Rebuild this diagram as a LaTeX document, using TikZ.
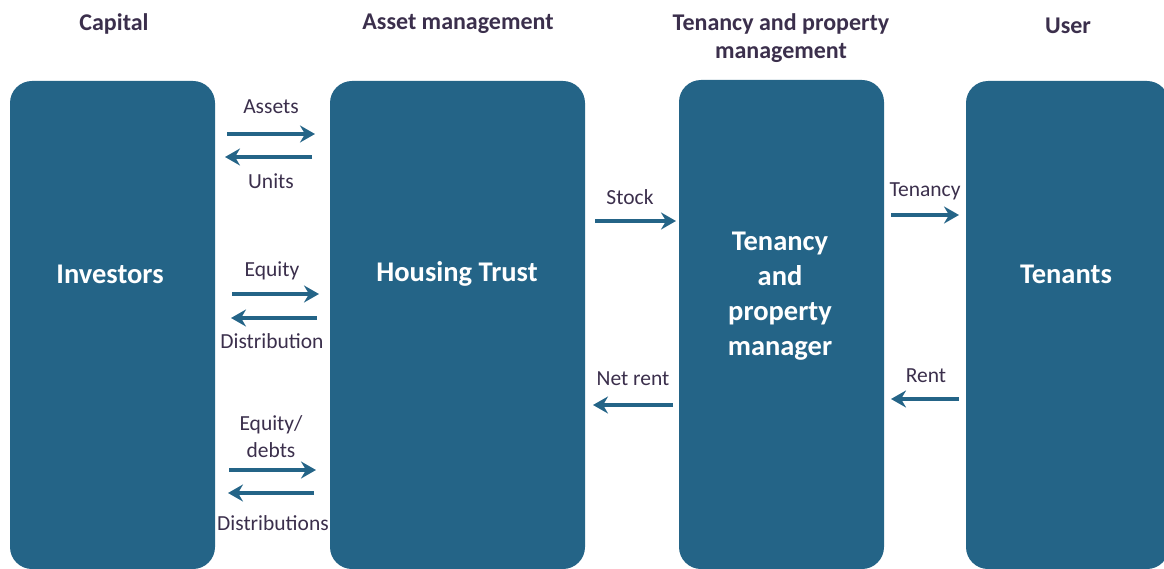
\documentclass[tikz,border=0pt]{standalone}
\usepackage{fontspec}
\setmainfont{Carlito}
\usetikzlibrary{arrows.meta}
\definecolor{boxblue}{HTML}{246487}
\definecolor{txt}{HTML}{3B2F4C}
\tikzset{
  box/.style={fill=boxblue, draw=none, rounded corners=22pt, text=white, font=\bfseries\fontsize{28.5}{35}\selectfont, align=center, inner sep=0pt},
  head/.style={text=txt, font=\bfseries\fontsize{24}{28}\selectfont, align=center, inner sep=0pt},
  lab/.style={text=txt, font=\fontsize{21.5}{27}\selectfont, align=center, inner sep=0pt},
  arr/.style={draw=boxblue, line width=4pt, -{Stealth[length=15pt, width=17pt, inset=5pt]}}
}
\begin{document}
\begin{tikzpicture}[x=1pt, y=-1pt]
\useasboundingbox (0,0) rectangle (1164,569);
% headers
\node[head] (h1) at (114,24) {Capital};
\node[head] (h2) at (458,24) {Asset management};
\node[head] (h3) at (781,38) {Tenancy and property\\management};
\node[head] (h4) at (1068,26) {User};
% boxes
\path[box] (10,81) rectangle (215,569);
\path[box] (330,81) rectangle (585,569);
\path[box] (679,80) rectangle (884,569);
\path[box] (966,81) rectangle (1169,569);
\node[box, fill=none] (inv) at (110,274) {Investors};
\node[box, fill=none] (ht) at (457,274) {Housing Trust};
\node[box, fill=none] (tpm) at (780,296) {Tenancy\\and\\property\\manager};
\node[box, fill=none] (ten) at (1066,274) {Tenants};
% arrow endpoints
\coordinate (a1s) at (227,134); \coordinate (a1e) at (315,134);
\coordinate (a2s) at (312,157); \coordinate (a2e) at (225,157);
\coordinate (b1s) at (232,294); \coordinate (b1e) at (319,294);
\coordinate (b2s) at (317,318); \coordinate (b2e) at (231,318);
\coordinate (c1s) at (229,470); \coordinate (c1e) at (316,470);
\coordinate (c2s) at (314,493); \coordinate (c2e) at (228,493);
\coordinate (ss) at (595,221); \coordinate (se) at (676,221);
\coordinate (ns) at (673,405); \coordinate (ne) at (593,405);
\coordinate (ts) at (891,215); \coordinate (te) at (959,215);
\coordinate (rs) at (959,399); \coordinate (re) at (891,399);
\draw[arr] (a1s) -- (a1e);
\draw[arr] (a2s) -- (a2e);
\draw[arr] (b1s) -- (b1e);
\draw[arr] (b2s) -- (b2e);
\draw[arr] (c1s) -- (c1e);
\draw[arr] (c2s) -- (c2e);
\draw[arr] (ss) -- (se);
\draw[arr] (ns) -- (ne);
\draw[arr] (ts) -- (te);
\draw[arr] (rs) -- (re);
% labels
\node[lab] (l1) at (271,107) {Assets};
\node[lab] (l2) at (271,181) {Units};
\node[lab] (l3) at (272,271) {Equity};
\node[lab] (l4) at (272,341) {Distribution};
\node[lab] (l5) at (271,437) {Equity/\\debts};
\node[lab] (l6) at (273,523) {Distributions};
\node[lab] (l7) at (630,197) {Stock};
\node[lab] (l8) at (633,379) {Net rent};
\node[lab] (l9) at (925,191) {Tenancy};
\node[lab] (l10) at (926,376) {Rent};
\end{tikzpicture}
\end{document}
